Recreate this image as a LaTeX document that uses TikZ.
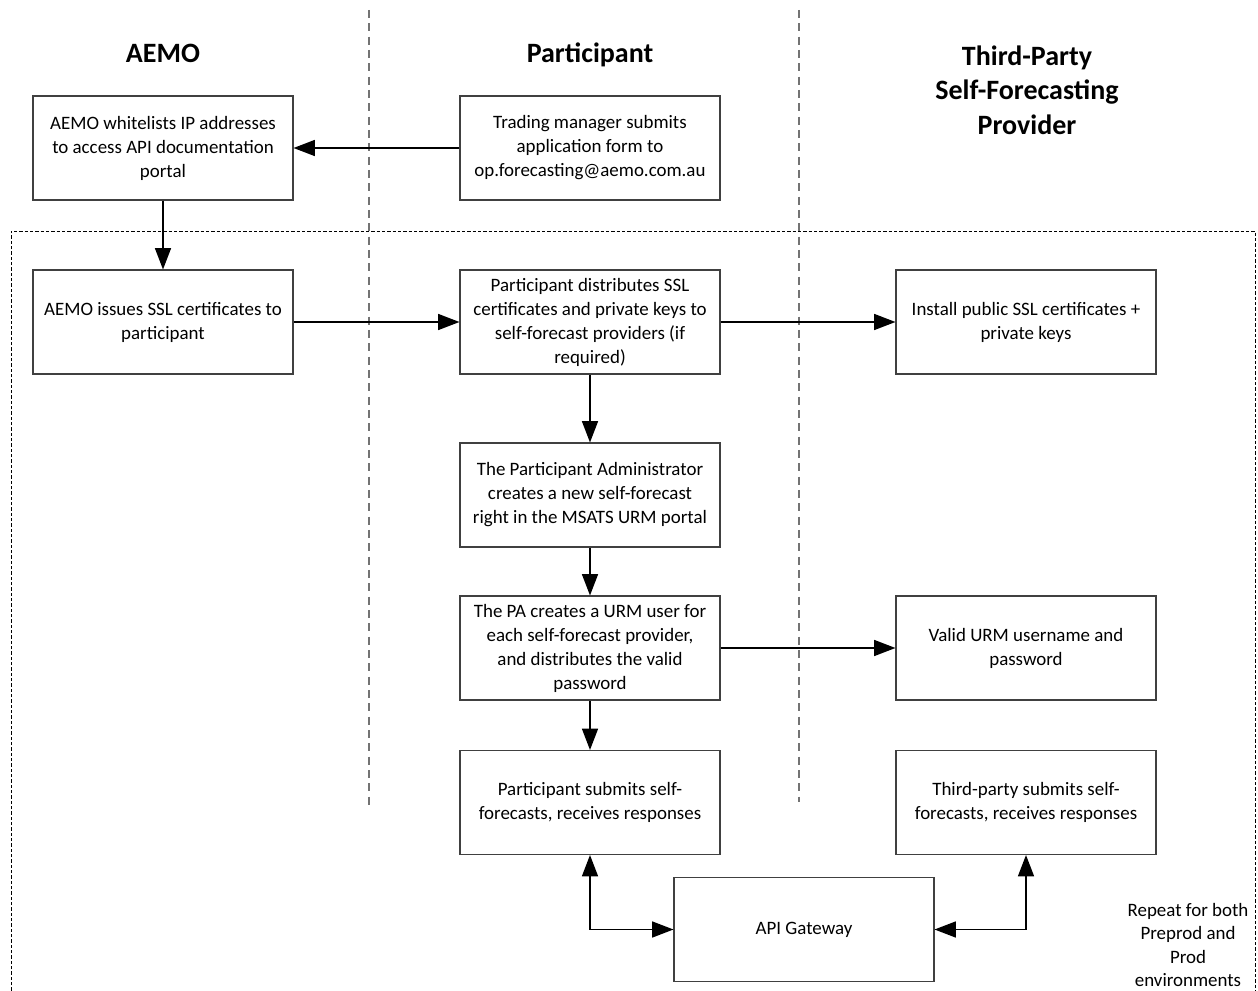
\documentclass[tikz,border=0pt]{standalone}
\usepackage{fontspec}
\setmainfont{Carlito}
\usetikzlibrary{arrows.meta}
\begin{document}
\begin{tikzpicture}[x=0.75pt,y=-0.75pt,
  box/.style={draw=black!75, line width=0.8pt, minimum width=195pt, minimum height=78pt,
    align=center, font=\fontsize{14.2pt}{18pt}\selectfont, inner sep=2pt},
  hdr/.style={align=center, font=\fontsize{21pt}{26pt}\selectfont\bfseries},
  arr/.style={line width=1.1pt, -{Triangle[length=16pt,width=12pt]}},
  darr/.style={line width=1.1pt, {Triangle[length=16pt,width=12pt]}-{Triangle[length=16pt,width=12pt]}},
  lane/.style={draw=black!55, line width=0.8pt, dash pattern=on 6pt off 4pt},
  grp/.style={draw=black, line width=0.6pt, dash pattern=on 2.5pt off 1.5pt}]
\useasboundingbox (0,0) rectangle (1258,991);
% lanes
\draw[lane] (369,10) -- (369,806);
\draw[lane] (799,10) -- (799,802);
% group box
\draw[grp] (11,996) -- (11,231) -- (1255,231) -- (1255,996);
% headers
\node[hdr, anchor=base] (hA) at (163,63) {AEMO};
\node[hdr, anchor=base] (hP) at (590,63) {Participant};
\node[hdr] (hT) at (1027,90) {Third-Party\\Self-Forecasting\\Provider};
% boxes
\node[box] (b1) at (163,148) {AEMO whitelists IP addresses\\to access API documentation\\portal};
\node[box] (b2) at (590,148) {Trading manager submits\\application form to\\op.forecasting@aemo.com.au};
\node[box] (b3) at (163,322) {AEMO issues SSL certificates to\\participant};
\node[box] (b4) at (590,322) {Participant distributes SSL\\certificates and private keys to\\self-forecast providers (if\\required)};
\node[box] (b5) at (1026,322) {Install public SSL certificates +\\private keys};
\node[box] (b6) at (590,495) {The Participant Administrator\\creates a new self-forecast\\right in the MSATS URM portal};
\node[box] (b7) at (590,648) {The PA creates a URM user for\\each self-forecast provider,\\and distributes the valid\\password};
\node[box] (b8) at (1026,648) {Valid URM username and\\password};
\node[box] (b9) at (590,802.5) {Participant submits self-\\forecasts, receives responses};
\node[box] (b10) at (1026,802.5) {Third-party submits self-\\forecasts, receives responses};
\node[box] (api) at (804,929.5) {API Gateway};
\node[align=center, font=\fontsize{14.2pt}{17.5pt}\selectfont] (rep) at (1188,945) {Repeat for both\\Preprod and\\Prod\\environments};
% connectors
\draw[arr] (b2.west) -- (b1.east);
\draw[arr] (b1.south) -- (b3.north);
\draw[arr] (b3.east) -- (b4.west);
\draw[arr] (b4.east) -- (b5.west);
\draw[arr] (b4.south) -- (b6.north);
\draw[arr] (b6.south) -- (b7.north);
\draw[arr] (b7.east) -- (b8.west);
\draw[arr] (b7.south) -- (b9.north);
\draw[darr] (b9.south) |- (api.west);
\draw[darr] (b10.south) |- (api.east);
\end{tikzpicture}
\end{document}
